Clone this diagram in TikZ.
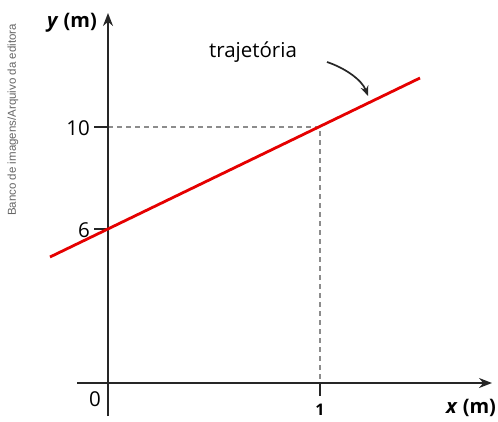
\documentclass[tikz,border=0pt]{standalone}
\usepackage{fontspec}
\setmainfont{Open Sans}
\newfontfamily\wmfont{Liberation Sans}
\usetikzlibrary{arrows.meta}
\begin{document}
\begin{tikzpicture}[x=1pt,y=-1pt,
  axis/.style={line width=1.8pt,draw=black!85,-{Stealth[length=13pt,width=10pt]}},
  tickline/.style={line width=1.8pt,draw=black!85},
  guide/.style={line width=1.1pt,draw=black!45,dash pattern=on 5pt off 4pt},
  traj/.style={line width=2.8pt,draw=red!90!black},
  lbl/.style={font=\fontsize{20.5}{24}\selectfont,inner sep=0pt},
  boldlbl/.style={font=\fontsize{16}{19}\selectfont\bfseries,inner sep=0pt}]
\useasboundingbox (0,0) rectangle (498,421);
% watermark
\node[rotate=90,text=black!60,font=\wmfont\fontsize{11.5}{13}\selectfont,inner sep=0pt] (wm) at (13,120) {Banco de imagens/Arquivo da editora};
% key points
\coordinate (O) at (108,383);
\coordinate (xs) at (77,383);
\coordinate (xe) at (492,383);
\coordinate (ys) at (108,416);
\coordinate (ye) at (108,13);
\coordinate (p10) at (108,127);
\coordinate (p6) at (108,229);
\coordinate (pt) at (320,127);
\coordinate (x1) at (320,383);
\coordinate (t10) at (94,127);
\coordinate (t6) at (94,229);
\coordinate (tx1) at (320,396);
\coordinate (ra) at (50,257);
\coordinate (rb) at (420,78);
% guides
\draw[guide] (p10) -- (pt) -- (x1);
% axes
\draw[axis] (xs) -- (xe);
\draw[axis] (ys) -- (ye);
\draw[tickline] (t10) -- (p10);
\draw[tickline] (t6) -- (p6);
\draw[tickline] (x1) -- (tx1);
% trajectory
\draw[traj] (ra) -- (rb);
% labels
\node[lbl,anchor=east] (l10) at (90,128) {10};
\node[lbl,anchor=east] (l6) at (90,230) {6};
\node[lbl] (l0) at (95,399) {0};
\node[boldlbl] (l1) at (320,410) {1};
\node[lbl,font=\fontsize{20}{24}\selectfont\bfseries] (lx) at (471,408) {\textit{x} (m)};
\node[lbl,font=\fontsize{20}{24}\selectfont\bfseries] (ly) at (72,23) {\textit{y} (m)};
\node[lbl] (lt) at (253,52) {trajetória};
\coordinate (cs) at (327,62);
\coordinate (ce) at (368,96);
\draw[line width=1.7pt,black!85,-{Stealth[length=10pt,width=8pt]}] (cs) .. controls (345,68) and (362,80) .. (ce);
\end{tikzpicture}
\end{document}
